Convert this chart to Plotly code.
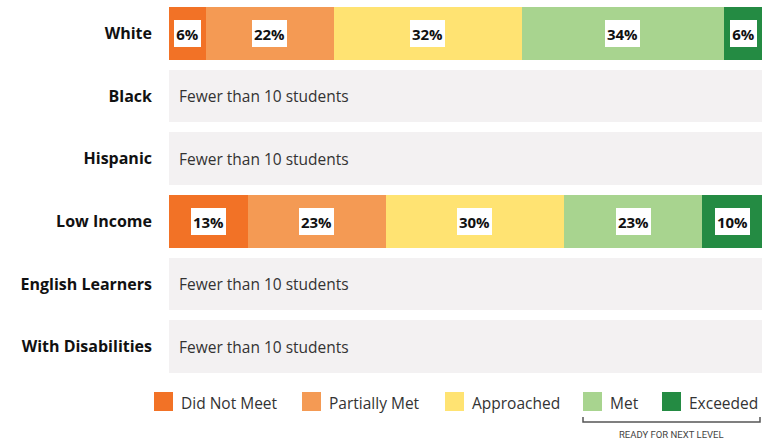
import numpy as np
import plotly.graph_objects as go

# ---------------- data ----------------
groups = ["White", "Black", "Hispanic", "Low Income", "English Learners", "With Disabilities"]
levels = ["Did Not Meet", "Partially Met", "Approached", "Met", "Exceeded"]
level_colors = ["#F27226", "#F49A54", "#FFE372", "#A8D48F", "#248B43"]

# segment widths (percent of students); None = suppressed
white_vals = [6.2, 21.6, 31.7, 34.1, 6.4]
low_income_vals = [13.3, 23.3, 30.0, 23.3, 10.1]
group_values = {
    "White": white_vals,
    "Black": None,
    "Hispanic": None,
    "Low Income": low_income_vals,
    "English Learners": None,
    "With Disabilities": None,
}
suppressed_text = "Fewer than 10 students"
ready_label = "READY FOR NEXT LEVEL"

# ---------------- geometry helpers ----------------
W, H = 765, 442
ML, MR, MT, MB = 169, 3, 2, 64
PW, PH = W - ML - MR, H - MT - MB


def px(x):
    return (x - ML) / PW


def py(y):
    return (H - MB - y) / PH


fig = go.Figure()

# suppressed rows (gray full-width bars)
sup = [g for g in groups if group_values[g] is None]
fig.add_trace(go.Bar(
    y=sup, x=[100] * len(sup), orientation="h",
    marker=dict(color="#F3F1F2", line=dict(width=0)),
    showlegend=False, hoverinfo="skip", base=0,
))

annotations = []
for g in sup:
    annotations.append(dict(
        x=0, y=g, xref="x", yref="y", text=suppressed_text, showarrow=False,
        xanchor="left", xshift=8, font=dict(family="Open Sans", size=15.5, color="#333333"),
    ))

# stacked level bars
data_groups = [g for g in groups if group_values[g] is not None]
for i, lev in enumerate(levels):
    fig.add_trace(go.Bar(
        y=data_groups, x=[group_values[g][i] for g in data_groups], orientation="h",
        name=lev, marker=dict(color=level_colors[i], line=dict(width=0)),
        showlegend=False, hoverinfo="skip",
    ))

for g in data_groups:
    vals = np.array(group_values[g])
    centers = np.cumsum(vals) - vals / 2
    for v, c in zip(vals, centers):
        t = f"{int(round(v))}%"
        annotations.append(dict(
            x=c, y=g, xref="x", yref="y", text=f"<b>{t}</b>", showarrow=False,
            font=dict(family="Open Sans", size=15, color="#111111"),
            bgcolor="#FFFFFF", borderpad=0, borderwidth=0,
            width=11 + 8 * len(t), height=27, align="center", valign="middle",
        ))

# manual legend
shapes = []
sq_left = [154, 302, 445, 583, 662]
sq = 19
sq_top = 392
for lev, col, xl in zip(levels, level_colors, sq_left):
    shapes.append(dict(type="rect", xref="paper", yref="paper",
                       x0=px(xl), x1=px(xl + sq), y0=py(sq_top + sq), y1=py(sq_top),
                       fillcolor=col, line=dict(width=0)))
    annotations.append(dict(
        x=px(xl + 25), y=py(sq_top + sq / 2 + 1.5), xref="paper", yref="paper",
        text=lev, showarrow=False, xanchor="left", yanchor="middle",
        font=dict(family="Open Sans", size=15.5, color="#333333"),
    ))

# bracket under Met / Exceeded
bx0, bx1, by0, by1 = 583, 760, 417, 422
shapes.append(dict(type="path", xref="paper", yref="paper",
                   path=f"M {px(bx0)} {py(by0)} L {px(bx0)} {py(by1)} L {px(bx1)} {py(by1)} L {px(bx1)} {py(by0)}",
                   line=dict(color="#555555", width=1.5)))
annotations.append(dict(
    x=px((bx0 + bx1) / 2), y=py(434), xref="paper", yref="paper",
    text=ready_label, showarrow=False, xanchor="center", yanchor="middle",
    font=dict(family="Liberation Sans Narrow, Roboto", size=9.5, color="#444444"),
))

fig.update_layout(
    width=W, height=H,
    margin=dict(l=ML, r=MR, t=MT, b=MB),
    barmode="stack", bargap=0.16,
    plot_bgcolor="#FFFFFF", paper_bgcolor="#FFFFFF",
    xaxis=dict(range=[0, 100], visible=False, fixedrange=True),
    yaxis=dict(
        categoryorder="array", categoryarray=groups, autorange="reversed",
        showgrid=False, zeroline=False, showline=False, ticks="",
        tickfont=dict(family="Open Sans", size=16, color="#111111"),
        tickvals=groups, ticktext=[f"<b>{g}</b>" for g in groups],
        ticklabelstandoff=16, fixedrange=True,
    ),
    annotations=annotations, shapes=shapes,
    showlegend=False,
)

fig.write_html(
    "out.html",
    config={"displayModeBar": False},
    post_script="document.body.style.margin='0';document.body.style.overflow='hidden';",
)
